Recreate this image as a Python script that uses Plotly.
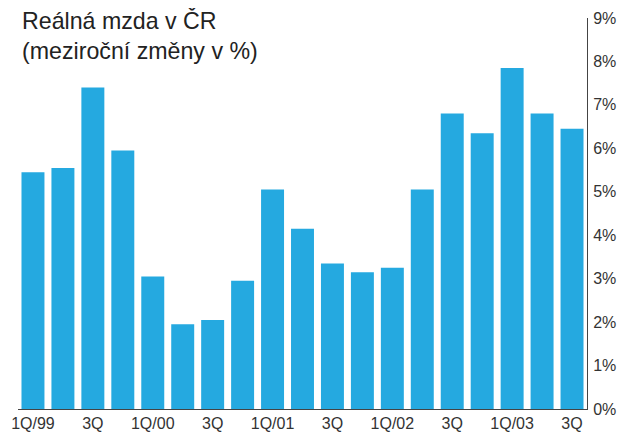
import plotly.graph_objects as go

categories = ["1Q/99", "2Q/99", "3Q/99", "4Q/99",
              "1Q/00", "2Q/00", "3Q/00", "4Q/00",
              "1Q/01", "2Q/01", "3Q/01", "4Q/01",
              "1Q/02", "2Q/02", "3Q/02", "4Q/02",
              "1Q/03", "2Q/03", "3Q/03"]
values = [5.45, 5.55, 7.4, 5.95, 3.05, 1.95, 2.05, 2.95, 5.05, 4.15,
          3.35, 3.15, 3.25, 5.05, 6.8, 6.35, 7.85, 6.8, 6.45]
tick_labels = ["1Q/99", "", "3Q", "", "1Q/00", "", "3Q", "", "1Q/01", "",
               "3Q", "", "1Q/02", "", "3Q", "", "1Q/03", "", "3Q"]
y_ticks = list(range(0, 10))
y_tick_labels = [f"{v}%" for v in y_ticks]

fig = go.Figure()
fig.add_trace(go.Bar(x=categories, y=values, marker=dict(color="#25A9E0", line=dict(width=0))))

font = "Liberation Sans, Arial, Helvetica, sans-serif"
fig.update_layout(
    width=621, height=428,
    margin=dict(l=9.5, r=41.5, t=10, b=27, autoexpand=False),
    paper_bgcolor="white", plot_bgcolor="white",
    bargap=0.233,
    showlegend=False,
    font=dict(family=font, color="#333333", size=16),
    xaxis=dict(
        tickmode="array", tickvals=categories, ticktext=tick_labels,
        showgrid=False, showline=True, linecolor="#444444", linewidth=1,
        ticks="", tickfont=dict(size=16, color="#333333"), automargin=False,
        range=[-0.5, len(categories) - 0.5],
    ),
    yaxis=dict(
        side="right", range=[0, 9], tickvals=y_ticks, ticktext=y_tick_labels,
        showgrid=False, zeroline=False, showline=True, linecolor="#444444", linewidth=1,
        ticks="", ticklabelstandoff=2, tickfont=dict(size=16, color="#333333"),
        automargin=False,
    ),
    annotations=[dict(
        text="Reálná mzda v ČR<br>(meziroční změny v %)",
        xref="paper", yref="paper", x=0.004, y=0.956, xanchor="left", yanchor="middle",
        align="left", showarrow=False, font=dict(size=23.2, color="#222222", family=font),
    )],
)

fig.write_html("out.html")
